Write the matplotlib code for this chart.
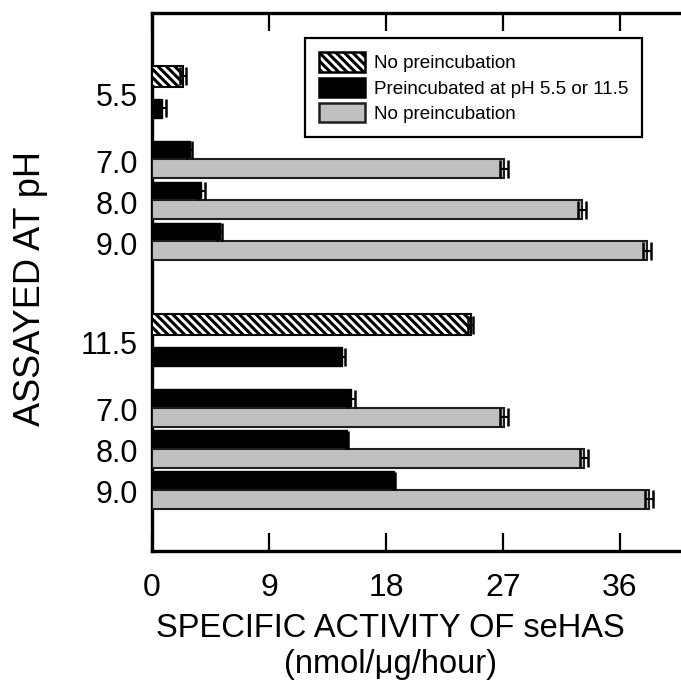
import numpy as np
import matplotlib
matplotlib.use('Agg')
import matplotlib.pyplot as plt
from matplotlib.patches import Patch

plt.rcParams['font.family'] = ['Liberation Sans', 'DejaVu Sans']
plt.rcParams['hatch.linewidth'] = 2.2

# ── Data: specific activity (nmol/µg/hour) ─────────────────
SINGLE_PH        = ["5.5", "11.5"]        # assayed at the preincubation pH
NOPRE_SINGLE     = [2.4, 24.5]            # hatched, no preincubation
NOPRE_SINGLE_ERR = [0.25, 0.2]
PRE_SINGLE       = [0.8, 14.6]            # black, preincubated
PRE_SINGLE_ERR   = [0.3, 0.25]

PAIR_PH          = ["7.0", "8.0", "9.0"]
PRE_PAIR         = [[2.9, 3.8, 5.2],      # after pH 5.5
                    [15.3, 15.0, 18.6]]   # after pH 11.5
PRE_PAIR_ERR     = [[0.2, 0.25, 0.2],
                    [0.3, 0.1, 0.1]]
NOPRE_PAIR       = [[27.1, 33.1, 38.1],
                    [27.1, 33.2, 38.2]]
NOPRE_PAIR_ERR   = [[0.3, 0.3, 0.3],
                    [0.3, 0.3, 0.3]]

LEGEND_LABELS = ["No preincubation", "Preincubated at pH 5.5 or 11.5",
                 "No preincubation"]
XTICKS = [0, 9, 18, 27, 36]

# ── Layout (vertical units, top-down) ──────────────────────
SECTION_TOP = [76, 324.5]
SINGLE_GAP  = 32
PAIR_START  = 74
PAIR_STEP   = 41
PAIR_OFF    = 18.5
BAR_H       = 19

GRAY = '#c0c0c0'
EDGE = '#1e1e1e'
HATCH = '\\\\\\\\'

fig = plt.figure(figsize=(6.81, 6.98), dpi=100)
W, H = 681, 698
ax = fig.add_axes([152 / W, 1 - 551 / H, 1 - 152 / W, (551 - 13) / H])

ytick_pos, ytick_lab = [], []
eb = dict(fmt='none', ecolor='black', elinewidth=1.5, capsize=6.5,
          capthick=1.8, zorder=4)

for s in range(2):
    y0 = SECTION_TOP[s]
    ax.barh(y0, NOPRE_SINGLE[s], height=BAR_H + 2, color='white',
            edgecolor='black', hatch=HATCH, lw=1.5, zorder=3)
    ax.errorbar(NOPRE_SINGLE[s], y0, xerr=NOPRE_SINGLE_ERR[s], **eb)
    ax.barh(y0 + SINGLE_GAP, PRE_SINGLE[s], height=BAR_H, color='black',
            edgecolor='black', lw=1, zorder=3)
    ax.errorbar(PRE_SINGLE[s], y0 + SINGLE_GAP, xerr=PRE_SINGLE_ERR[s], **eb)
    ytick_pos.append(y0 + SINGLE_GAP / 2 + 2)
    ytick_lab.append(SINGLE_PH[s])

    yb = y0 + PAIR_START + PAIR_STEP * np.arange(len(PAIR_PH))
    ax.barh(yb, PRE_PAIR[s], height=BAR_H, color='black',
            edgecolor='black', lw=1, zorder=3)
    ax.errorbar(PRE_PAIR[s], yb, xerr=PRE_PAIR_ERR[s], **eb)
    ax.barh(yb + PAIR_OFF, NOPRE_PAIR[s], height=BAR_H, color=GRAY,
            edgecolor=EDGE, lw=1.5, zorder=3)
    ax.errorbar(NOPRE_PAIR[s], yb + PAIR_OFF, xerr=NOPRE_PAIR_ERR[s], **eb)
    ytick_pos.extend(yb + PAIR_OFF / 2 + 2)
    ytick_lab.extend(PAIR_PH)

ax.set_ylim(551, 13)
ax.set_xlim(0, (W - 152) / 13.0)

ax.set_yticks(ytick_pos)
ax.set_yticklabels(ytick_lab, fontsize=22)
ax.tick_params(axis='y', length=0, pad=10)
ax.set_xticks(XTICKS)
ax.set_xticklabels([str(v) for v in XTICKS], fontsize=23)
ax.tick_params(axis='x', direction='in', top=True, length=13, width=1.6,
               pad=16)

for side in ['left', 'bottom', 'top']:
    ax.spines[side].set_linewidth(2.4)
ax.spines['right'].set_visible(False)

ax.set_xlabel('SPECIFIC ACTIVITY OF seHAS\n(nmol/\u03bcg/hour)',
              fontsize=23.5, linespacing=1.2)
ax.xaxis.set_label_coords(0.45, -0.115)
ax.set_ylabel('ASSAYED AT pH', fontsize=26, va='center')
ax.yaxis.set_label_coords(-0.23, 0.487)

handles = [Patch(facecolor='white', edgecolor='black', hatch=HATCH, lw=1.8),
           Patch(facecolor='black', edgecolor='black', lw=1.8),
           Patch(facecolor=GRAY, edgecolor=EDGE, lw=1.8)]
leg = ax.legend(handles, LEGEND_LABELS, loc='upper left',
                bbox_to_anchor=(305 / W, 1 - 38 / H),
                bbox_transform=fig.transFigure, fontsize=13.6,
                frameon=True, fancybox=False, edgecolor='black',
                framealpha=1, borderaxespad=0, borderpad=0.75,
                handlelength=2.4, handleheight=1.2, handletextpad=0.5,
                labelspacing=0.28)
leg.get_frame().set_linewidth(1.6)
leg.set_zorder(5)

fig.savefig('out.png', dpi=100)
